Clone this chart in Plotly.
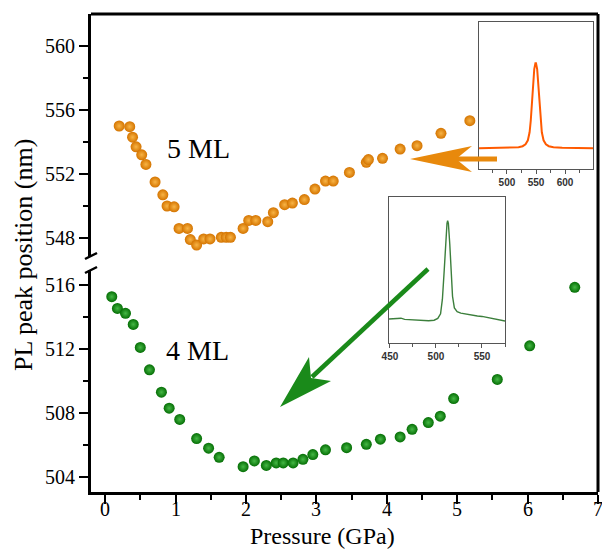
import plotly.graph_objects as go

# ---------------- data ----------------
p5 = [0.20, 0.35, 0.39, 0.44, 0.52, 0.58, 0.71, 0.82, 0.88, 0.98, 1.05, 1.17, 1.21, 1.30,
      1.40, 1.49, 1.65, 1.72, 1.78, 1.96, 2.04, 2.14, 2.31, 2.39, 2.55, 2.66, 2.83, 2.98,
      3.13, 3.24, 3.47, 3.71, 3.74, 3.94, 4.19, 4.43, 4.77, 5.18]
pl5 = [555.0, 554.96, 554.3, 553.7, 553.2, 552.6, 551.5, 550.7, 550.0, 549.95, 548.6, 548.6,
       547.9, 547.56, 547.94, 547.94, 548.04, 548.04, 548.04, 548.6, 549.1, 549.1, 549.02,
       549.58, 550.08, 550.18, 550.4, 551.06, 551.56, 551.56, 552.1, 552.73, 552.9, 552.98,
       553.56, 553.77, 554.54, 555.33]

p4 = [0.095, 0.175, 0.29, 0.40, 0.50, 0.63, 0.80, 0.91, 1.06, 1.30, 1.47, 1.62, 1.96, 2.12,
      2.29, 2.43, 2.53, 2.67, 2.81, 2.95, 3.13, 3.43, 3.71, 3.91, 4.19, 4.36, 4.59, 4.76,
      4.95, 5.57, 6.03, 6.67]
pl4 = [515.27, 514.54, 514.23, 513.54, 512.1, 510.7, 509.3, 508.3, 507.6, 506.4, 505.8,
       505.23, 504.64, 505.0, 504.72, 504.88, 504.88, 504.88, 505.1, 505.4, 505.7, 505.83,
       506.04, 506.36, 506.5, 506.98, 507.4, 507.8, 508.9, 510.1, 512.2, 515.86]

# inset spectra (arbitrary intensity units)
wl5 = [452, 480, 505, 520, 527, 532, 536, 539, 541, 543, 545, 547, 549, 550, 552, 554,
       556, 558, 560, 563, 567, 572, 580, 595, 620, 648]
in5 = [0.141, 0.142, 0.144, 0.148, 0.155, 0.168, 0.195, 0.25, 0.33, 0.46, 0.58, 0.68, 0.72,
       0.72, 0.68, 0.58, 0.46, 0.33, 0.25, 0.195, 0.168, 0.155, 0.148, 0.144, 0.142, 0.141]

wl4 = [449, 455, 459, 462, 466, 475, 485, 492, 498, 502, 505, 507, 509, 510.5, 512, 512.7,
       513.5, 515, 516.5, 518, 520, 523, 527, 535, 545, 550, 555, 565, 575]
in4 = [0.164, 0.166, 0.172, 0.170, 0.162, 0.158, 0.153, 0.152, 0.156, 0.168, 0.20, 0.30,
       0.50, 0.70, 0.82, 0.838, 0.82, 0.68, 0.48, 0.32, 0.24, 0.215, 0.205, 0.195, 0.185,
       0.182, 0.175, 0.163, 0.151]

x_ticks = [0, 1, 2, 3, 4, 5, 6, 7]
upper_ticks = [548, 552, 556, 560]
lower_ticks = [504, 508, 512, 516]
inset5_ticks = [500, 550, 600]
inset4_ticks = [450, 500, 550]

ORANGE = "#E8890C"
GREEN = "#1A8A1A"

# ---------------- layout geometry ----------------
W, H = 602, 550
PL, PR, PT, PB = 91, 598, 14, 492


def px(x):
    return (x - PL) / (PR - PL)


def py(y):
    return (PB - y) / (PB - PT)


fig = go.Figure()

fig.add_trace(go.Scatter(
    x=p5, y=pl5, mode="markers", xaxis="x", yaxis="y2",
    marker=dict(size=11, color="#D47400", line=dict(width=0),
                gradient=dict(type="radial", color="#F8B445")),
    showlegend=False, hoverinfo="skip"))

fig.add_trace(go.Scatter(
    x=p4, y=pl4, mode="markers", xaxis="x", yaxis="y",
    marker=dict(size=11, color="#056E05", line=dict(width=0),
                gradient=dict(type="radial", color="#45B845")),
    showlegend=False, hoverinfo="skip"))

fig.add_trace(go.Scatter(
    x=wl5, y=in5, mode="lines", xaxis="x2", yaxis="y3",
    line=dict(color="#FF5A00", width=2), showlegend=False, hoverinfo="skip"))

fig.add_trace(go.Scatter(
    x=wl4, y=in4, mode="lines", xaxis="x3", yaxis="y4",
    line=dict(color="#3C7F3C", width=1.4), showlegend=False, hoverinfo="skip"))

serif = "Liberation Serif"
tickfont = dict(family=serif, size=20, color="black")

main_axis = dict(showline=True, linecolor="black", linewidth=3, ticks="outside",
                 ticklen=9, tickwidth=2, tickcolor="black", showgrid=False,
                 zeroline=False, tickfont=tickfont)

inset_x = dict(showline=True, mirror=True, linecolor="#555", linewidth=1.3,
               ticks="outside", ticklen=4, tickwidth=1, tickcolor="#555",
               showgrid=False, zeroline=False,
               tickfont=dict(family="Liberation Sans", size=10, color="#333", weight="bold"),
               minor=dict(ticks="outside", ticklen=3, dtick=25, tickcolor="#555"))
inset_y = dict(showline=True, mirror=True, linecolor="#555", linewidth=1.3,
               showticklabels=False, ticks="", showgrid=False, zeroline=False,
               range=[0, 1])

fig.update_layout(
    width=W, height=H,
    margin=dict(l=PL, r=W - PR, t=PT, b=H - PB),
    paper_bgcolor="white", plot_bgcolor="white",
    font=dict(family=serif, color="black"),
    xaxis=dict(main_axis, range=[-0.2, 7], tickvals=x_ticks, anchor="y",
               showticklabels=False,
               minor=dict(ticks="outside", ticklen=5, dtick=0.5, tickwidth=2,
                          tickcolor="black")),
    yaxis=dict(main_axis, domain=[0, py(270)], range=[503.06, 516.94],
               tickvals=lower_ticks, anchor="x",
               minor=dict(ticks="outside", ticklen=5, tickvals=[506, 510, 514],
                          tickwidth=2, tickcolor="black")),
    yaxis2=dict(main_axis, domain=[py(256), 1], range=[546.875, 562],
                tickvals=upper_ticks, anchor="x",
                minor=dict(ticks="outside", ticklen=5, tickvals=[550, 554, 558],
                           tickwidth=2, tickcolor="black")),
    xaxis2=dict(inset_x, domain=[px(479), px(593)], range=[452, 648],
                tickvals=inset5_ticks, anchor="y3"),
    yaxis3=dict(inset_y, domain=[py(169), py(22)], anchor="x2"),
    xaxis3=dict(inset_x, domain=[px(389), px(505)], range=[449, 575],
                tickvals=inset4_ticks, anchor="y4"),
    yaxis4=dict(inset_y, domain=[py(343), py(197)], anchor="x3"),
)

shapes = []
# frame top and right
shapes.append(dict(type="line", xref="paper", yref="paper", x0=0, x1=1, y0=1, y1=1,
                   line=dict(color="black", width=3)))
shapes.append(dict(type="line", xref="paper", yref="paper", x0=1, x1=1, y0=0, y1=1,
                   line=dict(color="black", width=3)))
# axis break marks
for yb in (256, 270):
    shapes.append(dict(type="line", xref="paper", yref="paper",
                       xsizemode="pixel", ysizemode="pixel",
                       xanchor=0, yanchor=py(yb), x0=-6, x1=6, y0=-3, y1=3,
                       line=dict(color="black", width=2.5)))


def path(points):
    s = "M {} {}".format(px(points[0][0]), py(points[0][1]))
    for x, y in points[1:]:
        s += " L {} {}".format(px(x), py(y))
    return s + " Z"


# orange arrow
shapes.append(dict(type="path", xref="paper", yref="paper",
                   path=path([(454, 156.5), (497, 156.5), (497, 161.5), (454, 161.5)]),
                   fillcolor=ORANGE, line=dict(width=0)))
shapes.append(dict(type="path", xref="paper", yref="paper",
                   path=path([(410, 159), (472, 146), (456, 159), (472, 172)]),
                   fillcolor=ORANGE, line=dict(width=0)))
# green arrow
shapes.append(dict(type="line", xref="paper", yref="paper",
                   x0=px(428), y0=py(269), x1=px(312), y1=py(377),
                   line=dict(color=GREEN, width=4.5)))
shapes.append(dict(type="path", xref="paper", yref="paper",
                   path=path([(280, 407), (331, 381), (311, 378), (309, 357)]),
                   fillcolor=GREEN, line=dict(width=0)))
fig.update_layout(shapes=shapes)

ann = [
    dict(text="5 ML", x=1.32, y=553.6, xref="x", yref="y2", showarrow=False,
         font=dict(family=serif, size=28, color="black")),
    dict(text="4 ML", x=1.31, y=511.9, xref="x", yref="y", showarrow=False,
         font=dict(family=serif, size=28, color="black")),
    dict(text="Pressure (GPa)", x=px(322), y=py(535.5), xref="paper", yref="paper",
         xanchor="center", yanchor="middle",
         showarrow=False, font=dict(family=serif, size=24, color="black")),
    dict(text="PL peak position (nm)", x=px(24), y=py(255), xref="paper", yref="paper",
         xanchor="center", yanchor="middle",
         textangle=-90, showarrow=False, font=dict(family=serif, size=26, color="black")),
]
# x tick labels placed just under the tick marks
for t in x_ticks:
    ann.append(dict(text=str(t), x=t, y=py(509), xref="x", yref="paper",
                    xanchor="center", yanchor="middle", showarrow=False,
                    font=tickfont))
fig.update_layout(annotations=ann)

fig.write_html("out.html")
